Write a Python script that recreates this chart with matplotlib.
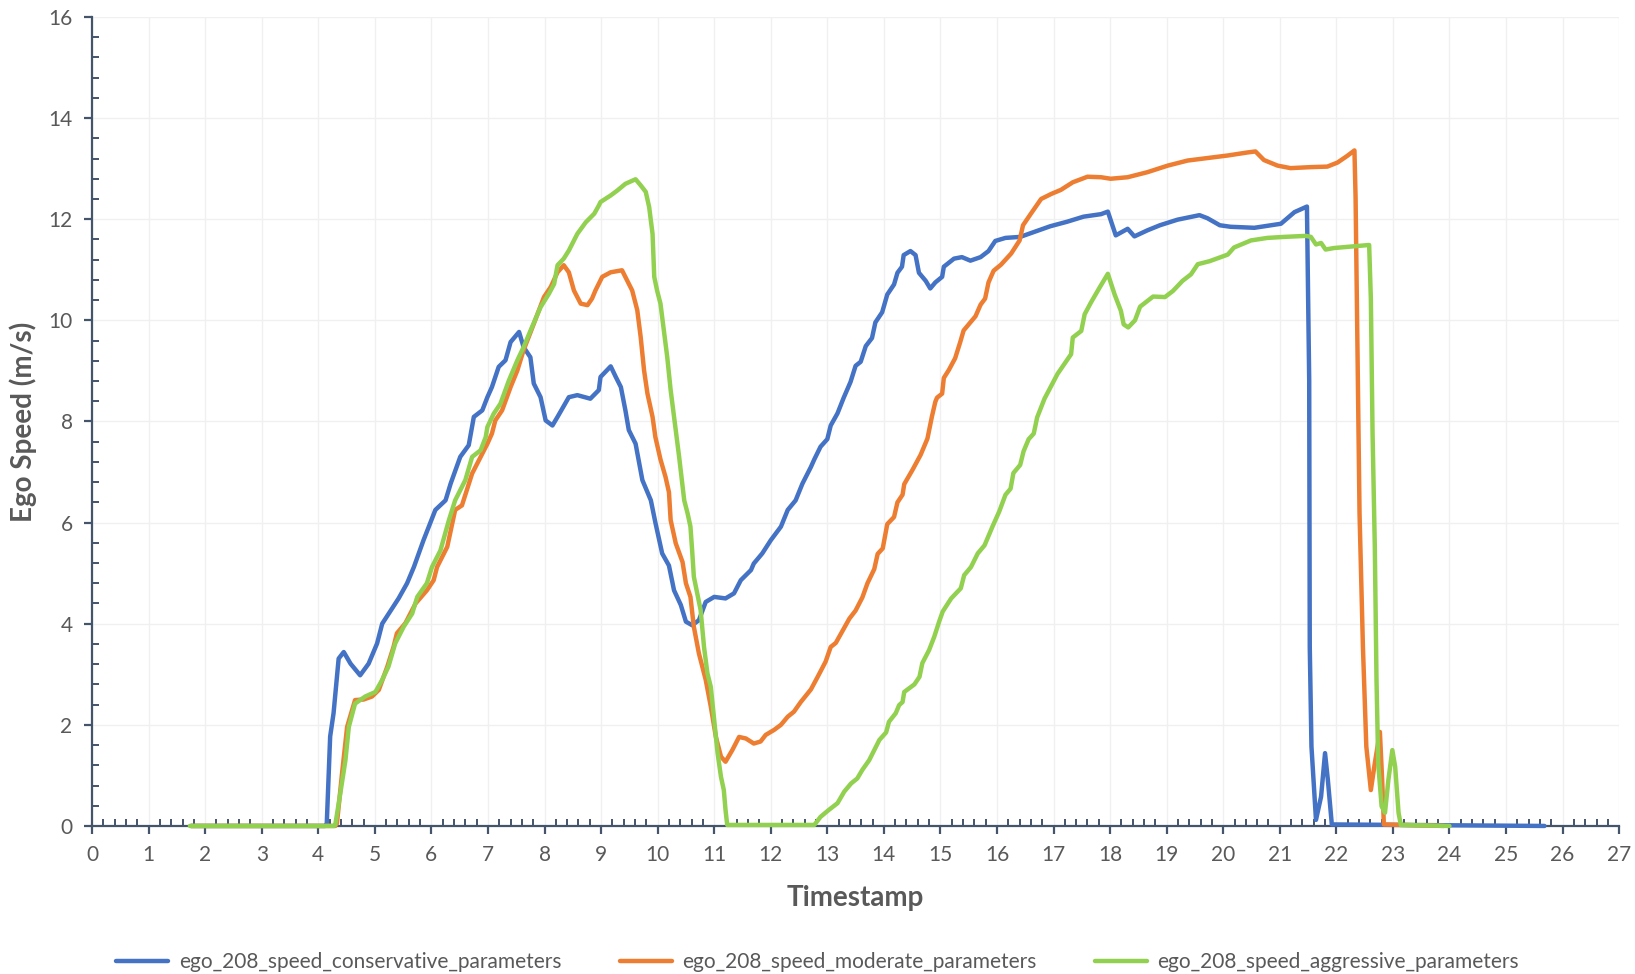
import matplotlib
matplotlib.use("Agg")
import matplotlib.pyplot as plt
from matplotlib.ticker import MultipleLocator

plt.rcParams['font.family'] = ['Lato', 'DejaVu Sans']

# speed traces read per series: timestamp / speed pairs
cons_t = [1.75, 4.12, 4.15, 4.21, 4.27, 4.36, 4.45, 4.57, 4.74, 4.89, 5.04, 5.13, 5.27, 5.42, 5.57,
          5.69, 5.86, 6.07, 6.25, 6.34, 6.51, 6.66, 6.75, 6.90, 6.99, 7.07, 7.19, 7.31, 7.40, 7.55,
          7.63, 7.75, 7.81, 7.93, 8.02, 8.14, 8.23, 8.43, 8.58, 8.81, 8.96, 8.99, 9.17, 9.26, 9.35,
          9.43, 9.49, 9.61, 9.73, 9.88, 9.96, 10.08, 10.20, 10.29, 10.41, 10.50, 10.61, 10.73, 10.85,
          11.00, 11.20, 11.35, 11.47, 11.65, 11.70, 11.85, 12.00, 12.18, 12.30, 12.44, 12.56, 12.71,
          12.77, 12.88, 13.00, 13.06, 13.18, 13.29, 13.41, 13.50, 13.59, 13.68, 13.79, 13.85, 13.97,
          14.06, 14.18, 14.24, 14.32, 14.35, 14.47, 14.56, 14.62, 14.74, 14.82, 14.91, 15.03, 15.06,
          15.24, 15.38, 15.53, 15.71, 15.85, 15.97, 16.15, 16.41, 16.66, 16.94, 17.24, 17.53, 17.84,
          17.96, 18.10, 18.31, 18.43, 18.66, 18.88, 19.19, 19.58, 19.72, 19.94, 20.13, 20.55, 21.02,
          21.26, 21.48, 21.52, 21.53, 21.56, 21.64, 21.73, 21.80, 21.85, 21.92, 25.68]
cons_v = [0, 0, 0.05, 1.77, 2.23, 3.31, 3.44, 3.21, 2.98, 3.21, 3.61, 4.00, 4.24, 4.50, 4.80,
          5.12, 5.65, 6.25, 6.44, 6.77, 7.30, 7.53, 8.09, 8.22, 8.48, 8.68, 9.08, 9.21, 9.57, 9.77,
          9.47, 9.27, 8.75, 8.48, 8.02, 7.92, 8.09, 8.48, 8.52, 8.45, 8.62, 8.88, 9.09, 8.88, 8.68,
          8.22, 7.83, 7.56, 6.84, 6.44, 6.00, 5.39, 5.15, 4.66, 4.37, 4.04, 3.97, 4.07, 4.43,
          4.53, 4.50, 4.60, 4.86, 5.06, 5.19, 5.39, 5.65, 5.92, 6.25, 6.44, 6.77, 7.10,
          7.25, 7.50, 7.65, 7.92, 8.16, 8.47, 8.78, 9.10, 9.18, 9.49, 9.65, 9.96, 10.16,
          10.51, 10.71, 10.94, 11.06, 11.29, 11.37, 11.29, 10.94, 10.78, 10.63, 10.75, 10.86, 11.06,
          11.22, 11.25, 11.18, 11.25, 11.37, 11.57, 11.63, 11.65, 11.75, 11.86, 11.95, 12.05, 12.10,
          12.15, 11.68, 11.81, 11.66, 11.78, 11.88, 11.99, 12.08, 12.02, 11.88, 11.85, 11.83, 11.91,
          12.14, 12.25, 8.81, 3.54, 1.57, 0.12, 0.58, 1.44, 0.91, 0.03, 0]

mod_t = [1.75, 4.30, 4.33, 4.42, 4.51, 4.65, 4.80, 4.95, 5.07, 5.22, 5.33, 5.39, 5.54, 5.72, 5.92,
         6.04, 6.10, 6.28, 6.42, 6.54, 6.72, 6.87, 6.99, 7.07, 7.13, 7.25, 7.40, 7.52, 7.63, 7.81,
         7.99, 8.11, 8.23, 8.34, 8.43, 8.52, 8.64, 8.76, 8.84, 8.90, 8.99, 9.02, 9.17, 9.37, 9.46,
         9.55, 9.64, 9.70, 9.76, 9.82, 9.91, 9.96, 10.05, 10.14, 10.20, 10.23, 10.32, 10.44, 10.50,
         10.58, 10.64, 10.73, 10.85, 10.94, 11.03, 11.12, 11.20, 11.32, 11.44, 11.56, 11.70, 11.82,
         11.91, 12.06, 12.18, 12.30, 12.41, 12.53, 12.71, 12.83, 12.97, 13.06, 13.15, 13.30, 13.39,
         13.50, 13.62, 13.71, 13.83, 13.89, 13.98, 14.06, 14.18, 14.24, 14.33, 14.36, 14.51, 14.65,
         14.77, 14.85, 14.91, 14.94, 15.03, 15.06, 15.15, 15.26, 15.35, 15.41, 15.53, 15.62, 15.71,
         15.79, 15.85, 15.94, 16.07, 16.25, 16.40, 16.46, 16.60, 16.78, 16.96, 17.13, 17.34, 17.60,
         17.84, 18.01, 18.31, 18.66, 19.02, 19.37, 19.72, 20.08, 20.43, 20.57, 20.72, 20.96, 21.19,
         21.55, 21.84, 22.02, 22.19, 22.32, 22.34, 22.38, 22.41, 22.47, 22.53, 22.61, 22.68, 22.77,
         22.81, 22.84, 23.90]
mod_v = [0, 0, 0.05, 1.04, 1.96, 2.49, 2.50, 2.56, 2.69, 3.15, 3.54, 3.81, 4.01, 4.40, 4.66,
         4.86, 5.12, 5.52, 6.25, 6.34, 6.97, 7.30, 7.56, 7.76, 8.02, 8.22, 8.68, 9.01, 9.41, 9.93,
         10.46, 10.66, 10.95, 11.09, 10.95, 10.59, 10.33, 10.30, 10.43, 10.59, 10.79, 10.86, 10.95, 10.99, 10.79,
         10.59, 10.20, 9.67, 9.01, 8.55, 8.09, 7.69, 7.25, 6.90, 6.60, 6.05, 5.59, 5.22, 4.80,
         4.53, 3.94, 3.41, 2.89, 2.36, 1.76, 1.37, 1.27, 1.50, 1.76, 1.73, 1.63, 1.67,
         1.80, 1.90, 2.00, 2.16, 2.26, 2.45, 2.70, 2.95, 3.25, 3.54, 3.62, 3.92, 4.10,
         4.26, 4.52, 4.80, 5.08, 5.38, 5.49, 5.97, 6.11, 6.40, 6.55, 6.76, 7.05, 7.34,
         7.66, 8.10, 8.39, 8.47, 8.55, 8.86, 9.02, 9.25, 9.57, 9.80, 9.96, 10.08, 10.31,
         10.43, 10.75, 10.98, 11.10, 11.32, 11.58, 11.88, 12.11, 12.40, 12.50, 12.58, 12.73, 12.84,
         12.83, 12.80, 12.83, 12.93, 13.06, 13.16, 13.21, 13.26, 13.32, 13.34, 13.17, 13.06, 13.01,
         13.03, 13.04, 13.12, 13.25, 13.36, 12.43, 8.81, 6.18, 3.54, 1.57, 0.71, 1.24, 1.86,
         0.91, 0.03, 0]

agg_t = [1.73, 4.28, 4.30, 4.39, 4.48, 4.54, 4.65, 4.83, 5.01, 5.13, 5.24, 5.36, 5.51, 5.66, 5.75,
         5.92, 6.01, 6.16, 6.31, 6.42, 6.60, 6.72, 6.87, 6.96, 6.99, 7.10, 7.22, 7.37, 7.52, 7.63,
         7.78, 7.93, 8.08, 8.17, 8.23, 8.34, 8.43, 8.58, 8.73, 8.88, 8.96, 8.99, 9.17, 9.29, 9.43,
         9.61, 9.70, 9.79, 9.85, 9.91, 9.94, 9.99, 10.05, 10.11, 10.17, 10.23, 10.30, 10.38, 10.47,
         10.53, 10.58, 10.61, 10.64, 10.70, 10.76, 10.82, 10.88, 10.94, 11.00, 11.06, 11.12, 11.17,
         11.20, 11.23, 12.77, 12.88, 13.03, 13.18, 13.30, 13.42, 13.53, 13.62, 13.74, 13.83, 13.92,
         14.04, 14.09, 14.21, 14.27, 14.33, 14.36, 14.54, 14.63, 14.68, 14.80, 14.89, 14.98, 15.04,
         15.19, 15.36, 15.42, 15.54, 15.66, 15.78, 15.92, 16.04, 16.15, 16.24, 16.29, 16.41, 16.47,
         16.56, 16.65, 16.71, 16.84, 17.07, 17.31, 17.34, 17.49, 17.55, 17.66, 17.81, 17.96, 18.08,
         18.19, 18.24, 18.32, 18.44, 18.53, 18.76, 18.97, 19.11, 19.28, 19.43, 19.55, 19.76, 20.08,
         20.19, 20.49, 20.78, 21.08, 21.46, 21.55, 21.64, 21.73, 21.81, 21.96, 22.26, 22.58, 22.61,
         22.64, 22.68, 22.71, 22.74, 22.80, 22.86, 22.92, 22.99, 23.04, 23.10, 23.14, 24.00]
agg_v = [0, 0, 0.02, 0.65, 1.30, 1.96, 2.42, 2.56, 2.65, 2.89, 3.15, 3.61, 3.94, 4.20, 4.53,
         4.80, 5.12, 5.45, 6.05, 6.44, 6.84, 7.30, 7.43, 7.69, 7.89, 8.15, 8.35, 8.81, 9.21, 9.47,
         9.87, 10.26, 10.53, 10.72, 11.09, 11.22, 11.38, 11.71, 11.94, 12.11, 12.27, 12.34, 12.47, 12.57, 12.70,
         12.79, 12.67, 12.54, 12.24, 11.71, 10.86, 10.59, 10.33, 9.80, 9.27, 8.62, 8.00, 7.30, 6.44,
         6.18, 5.92, 5.45, 4.93, 4.60, 4.27, 3.54, 3.02, 2.75, 2.09, 1.44, 0.97, 0.71,
         0.32, 0.02, 0.02, 0.18, 0.32, 0.45, 0.68, 0.84, 0.94, 1.11, 1.30, 1.50, 1.70,
         1.85, 2.06, 2.23, 2.39, 2.45, 2.65, 2.80, 2.95, 3.22, 3.48, 3.74, 4.05, 4.24,
         4.50, 4.70, 4.96, 5.12, 5.39, 5.55, 5.92, 6.22, 6.55, 6.67, 6.98, 7.14, 7.41,
         7.65, 7.76, 8.08, 8.45, 8.94, 9.33, 9.66, 9.79, 10.12, 10.35, 10.64, 10.92, 10.51,
         10.19, 9.92, 9.86, 10.00, 10.27, 10.47, 10.46, 10.58, 10.78, 10.91, 11.11, 11.17, 11.30,
         11.44, 11.58, 11.63, 11.65, 11.67, 11.65, 11.50, 11.53, 11.40, 11.43, 11.46, 11.49, 10.43,
         7.79, 5.52, 2.89, 1.24, 0.39, 0.26, 0.91, 1.50, 1.17, 0.26, 0.02, 0]

series = [
    (cons_t, cons_v, "ego_208_speed_conservative_parameters", "#4472C4"),
    (mod_t, mod_v, "ego_208_speed_moderate_parameters", "#ED7D31"),
    (agg_t, agg_v, "ego_208_speed_aggressive_parameters", "#92D050"),
]

axis_col = "#44546A"
text_col = "#595959"

fig = plt.figure(figsize=(16.35, 9.74), dpi=100)
ax = fig.add_axes([0.0563, 0.152, 0.934, 0.8306])

for t, v, name, col in series:
    ax.plot(t, v, color=col, lw=3.2, label=name, solid_joinstyle="round",
            solid_capstyle="round", clip_on=False, zorder=3)

ax.set_xlim(0, 27)
ax.set_ylim(0, 16)
ax.xaxis.set_major_locator(MultipleLocator(1))
ax.xaxis.set_minor_locator(MultipleLocator(0.2))
ax.yaxis.set_major_locator(MultipleLocator(2))
ax.yaxis.set_minor_locator(MultipleLocator(0.4))

ax.grid(True, which="major", color="#F0F0F0", lw=1.0, zorder=0)
ax.set_axisbelow(True)

for s in ["top", "right"]:
    ax.spines[s].set_visible(False)
for s in ["left", "bottom"]:
    ax.spines[s].set_color(axis_col)
    ax.spines[s].set_linewidth(1.6)

ax.tick_params(which="major", direction="out", length=6, width=1.6, color=axis_col,
               labelsize=15, labelcolor=text_col, pad=8)
ax.tick_params(which="minor", direction="in", length=5, width=1.4, color=axis_col)

ax.set_xlabel("Timestamp", fontsize=20, fontweight="bold", color=text_col, labelpad=14)
ax.set_ylabel("Ego Speed (m/s)", fontsize=20, fontweight="bold", color=text_col, labelpad=8)

fig.legend(loc="lower center", bbox_to_anchor=(0.5, -0.017), ncol=3, frameon=False,
           fontsize=15, labelcolor=text_col, handlelength=2.5, columnspacing=2.8,
           handletextpad=0.5)

fig.savefig("out.png", dpi=100)
